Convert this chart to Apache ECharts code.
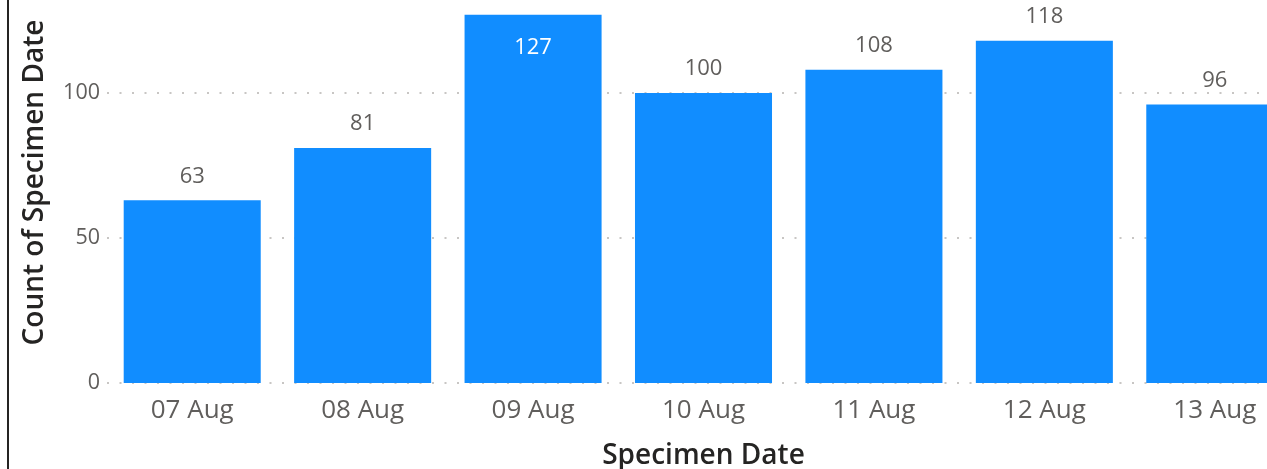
<!DOCTYPE html>
<html>
<head>
<meta charset="utf-8">
<script src="https://cdn.jsdelivr.net/npm/echarts@6/dist/echarts.min.js"></script>
<style>
html,body{margin:0;padding:0;background:#fff;}
#chart{width:1267px;height:469px;}
</style>
</head>
<body>
<div id="chart"></div>
<script>
const categories = ['07 Aug', '08 Aug', '09 Aug', '10 Aug', '11 Aug', '12 Aug', '13 Aug'];
const counts = [63, 81, 127, 100, 108, 118, 96];
const yTicks = [0, 50, 100];

const FONT = '"Segoe UI", "Open Sans", "Noto Sans", sans-serif';
const chart = echarts.init(document.getElementById('chart'));

const seriesData = counts.map(v => {
  if (v >= 125) {
    return { value: v, label: { position: 'insideTop', color: '#ffffff', distance: 22 } };
  }
  return v;
});

chart.setOption({
  animation: false,
  textStyle: { fontFamily: FONT },
  graphic: [{
    type: 'rect', left: 7, top: 0,
    shape: { width: 2, height: 469 },
    style: { fill: '#252423' }
  }],
  grid: { left: 107, top: 6, right: -33, bottom: 86, containLabel: false, outerBoundsMode: 'none' },
  xAxis: {
    type: 'category',
    data: categories,
    name: 'Specimen Date',
    nameLocation: 'middle',
    nameGap: 59,
    nameTextStyle: { fontFamily: FONT, fontSize: 28, fontWeight: 600, color: '#252423' },
    axisLine: { show: false },
    axisTick: { show: false },
    axisLabel: { fontFamily: FONT, fontSize: 26, color: '#605E5C', margin: 15 }
  },
  yAxis: {
    type: 'value',
    min: 0,
    max: 130,
    interval: 50,
    name: 'Count of Specimen Date',
    nameLocation: 'middle',
    nameGap: 58,
    nameTextStyle: { fontFamily: FONT, fontSize: 28, fontWeight: 600, color: '#252423', padding: [0, 0, 0, 24] },
    axisLine: { show: false },
    axisTick: { show: false },
    axisLabel: {
      fontFamily: FONT, fontSize: 21.5, color: '#605E5C', margin: 7,
      formatter: v => (yTicks.indexOf(v) >= 0 ? String(v) : '')
    },
    splitLine: {
      show: true,
      showMaxLine: false,
      lineStyle: { color: '#C8C6C4', width: 2, type: [2, 10.5] }
    }
  },
  series: [{
    type: 'bar',
    data: seriesData,
    barCategoryGap: '19.6%',
    itemStyle: { color: '#118DFF' },
    label: {
      show: true,
      position: 'top',
      distance: 13,
      fontFamily: FONT,
      fontSize: 22,
      color: '#605E5C'
    }
  }]
});
</script>
</body>
</html>
